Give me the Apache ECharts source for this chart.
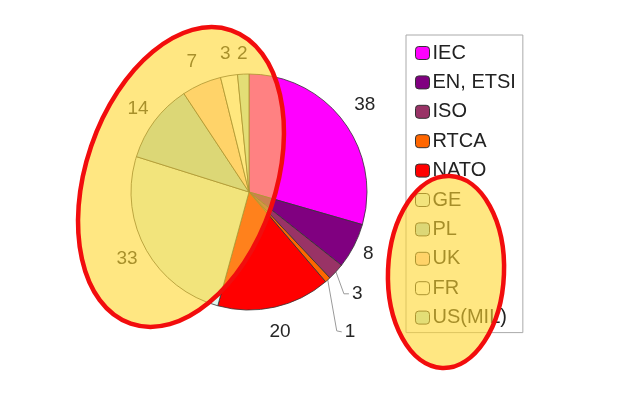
<!DOCTYPE html>
<html>
<head>
<meta charset="utf-8">
<script src="https://cdn.jsdelivr.net/npm/echarts@6/dist/echarts.min.js"></script>
<style>
  html, body { margin: 0; padding: 0; background: #fff; }
  #chart { width: 623px; height: 398px; }
</style>
</head>
<body>
<div id="chart"></div>
<script>
// standards bodies and their counts
const names = ['IEC', 'EN, ETSI', 'ISO', 'RTCA', 'NATO', 'GE', 'PL', 'UK', 'FR', 'US(MIL)'];
const values = [38, 8, 3, 1, 20, 33, 14, 7, 3, 2];
const colors = ['#ff00ff', '#800080', '#993366', '#ff6600', '#ff0000',
                '#def8f0', '#a8d8e0', '#ffccc0', '#fffff4', '#b8e8e0'];

// label distance from the pie edge, per slice
const labelLen = [27, 16, 4, 4, 25, 21, 21, 24, 22, 20];
// slices with a bent leader line: [dx1, dy1, dx2, dy2]
const leader = { 2: [8, 22, 13, 22], 3: [9, 51, 14, 52] };

const chart = echarts.init(document.getElementById('chart'));

const pieData = names.map(function (n, i) {
  return {
    name: n,
    value: values[i],
    itemStyle: { color: colors[i] },
    labelLine: {
      length: labelLen[i],
      lineStyle: { opacity: leader[i] ? 1 : 0 }
    }
  };
});

chart.setOption({
  animation: false,
  textStyle: { fontFamily: 'Liberation Sans, Arial, sans-serif' },
  legend: {
    orient: 'vertical',
    left: 406,
    top: 35,
    padding: [8, 7, 5, 9],
    itemGap: 9.4,
    itemWidth: 14,
    itemHeight: 13,
    selectedMode: false,
    borderColor: '#aaa',
    borderWidth: 1,
    backgroundColor: '#fff',
    itemStyle: { borderColor: '#333', borderWidth: 1 },
    textStyle: { fontSize: 20, lineHeight: 20, color: '#222', padding: [0, 0, 0, -2] },
    data: names
  },
  series: [{
    type: 'pie',
    center: [249, 192],
    radius: 118,
    startAngle: 90,
    clockwise: true,
    avoidLabelOverlap: false,
    itemStyle: { borderColor: '#333', borderWidth: 0.8 },
    label: {
      show: true,
      position: 'outside',
      formatter: '{c}',
      fontSize: 19,
      color: '#262626',
      distanceToLabelLine: 0
    },
    labelLine: {
      show: true,
      length2: 0,
      lineStyle: { color: '#9a9a9a', width: 1 }
    },
    labelLayout: function (p) {
      const pts = p.labelLinePoints;
      if (!pts) return {};
      const p0 = pts[0];
      const l = leader[p.dataIndex];
      if (l) {
        return {
          x: p0[0] + l[2] + 3,
          y: p0[1] + l[3],
          align: 'left',
          verticalAlign: 'middle',
          labelLinePoints: [p0, [p0[0] + l[0], p0[1] + l[1]], [p0[0] + l[2], p0[1] + l[3]]]
        };
      }
      return { x: pts[1][0], y: pts[1][1], align: 'center', verticalAlign: 'middle' };
    },
    data: pieData
  }],
  graphic: [{
    type: 'ellipse',
    x: 181,
    y: 177,
    rotation: -0.33,
    shape: { cx: 0, cy: 0, rx: 95, ry: 155 },
    style: { fill: 'rgba(255,215,47,0.6)', stroke: '#f20d0d', lineWidth: 4.5 },
    z: 100
  }, {
    type: 'ellipse',
    x: 446,
    y: 272,
    rotation: -0.04,
    shape: { cx: 0, cy: 0, rx: 58, ry: 96 },
    style: { fill: 'rgba(255,215,47,0.6)', stroke: '#f20d0d', lineWidth: 4.5 },
    z: 100
  }]
});
</script>
</body>
</html>
